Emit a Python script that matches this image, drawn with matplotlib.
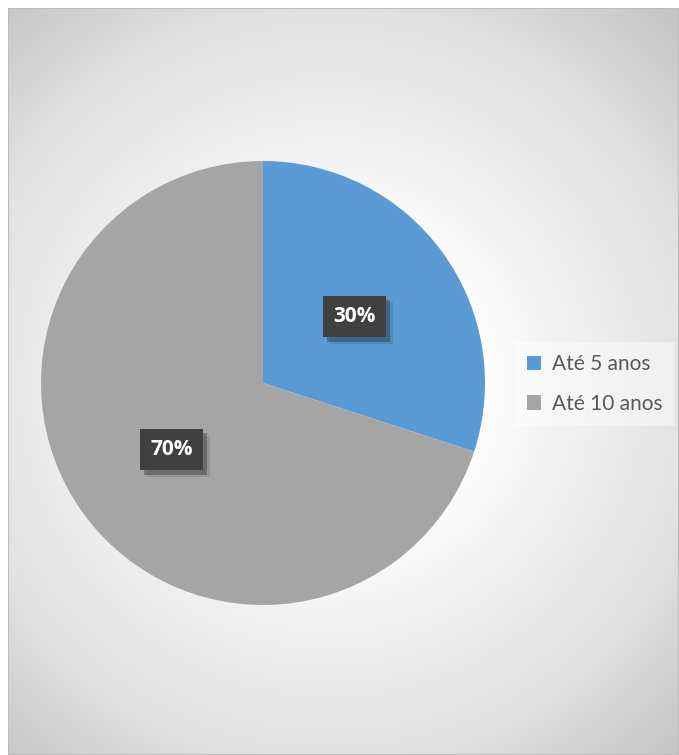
import numpy as np
import matplotlib.pyplot as plt
from matplotlib.patches import Rectangle
import matplotlib.patheffects as pe

labels = ["Até 5 anos", "Até 10 anos"]
values = [30, 70]
colors = ["#5B9BD5", "#A5A5A5"]

W, H = 679, 755
fig = plt.figure(figsize=(W / 100, H / 100), dpi=100)
fig.patch.set_facecolor("white")

# chart area background: radial gradient, white around the pie, grey towards the corners
bg = fig.add_axes([8 / W, 0, 1 - 8 / W, 1 - 8 / H])
bg.set_axis_off()
yy, xx = np.mgrid[8:H, 8:W]
d = np.hypot(xx - 330, yy - 385)
g = np.interp(d, [0, 150, 230, 370, 510, 700], [255, 255, 242, 226, 196, 180]) / 255.0
bg.imshow(np.dstack([g, g, g]), aspect="auto", extent=[0, 1, 0, 1], interpolation="bilinear")
bg.add_patch(Rectangle((0, 0), 1, 1, transform=bg.transAxes, fill=False,
                       edgecolor="#BDBDBD", linewidth=1.5))
bg.set_xlim(0, 1)
bg.set_ylim(0, 1)

# pie
cx, cy, r = 263, 383, 222
ax = fig.add_axes([(cx - r) / W, (H - cy - r) / H, 2 * r / W, 2 * r / H])
ax.set_axis_off()
wedges, texts, autotexts = ax.pie(values, colors=colors, startangle=90, counterclock=False,
                                  autopct="%d%%", pctdistance=0.51, radius=1,
                                  wedgeprops=dict(linewidth=0))
ax.set_xlim(-1, 1)
ax.set_ylim(-1, 1)
for t in autotexts:
    t.set_color("white")
    t.set_fontsize(15)
    t.set_fontweight("bold")
    t.set_fontfamily("Open Sans")
    t.set_bbox(dict(boxstyle="square,pad=0.5", facecolor="#404040", edgecolor="none",
                    path_effects=[pe.SimplePatchShadow(offset=(5, -5), alpha=0.12),
                                  pe.SimplePatchShadow(offset=(3, -3), alpha=0.3),
                                  pe.Normal()]))

# legend
leg = fig.legend(wedges, labels, loc="center left", bbox_to_anchor=(514 / W, (H - 384) / H),
                 frameon=True, prop=dict(family="Lato", size=15), handlelength=0.7,
                 handleheight=0.7, handletextpad=0.5, labelspacing=0.95, borderpad=0.6,
                 borderaxespad=0, fancybox=False)
leg.get_frame().set_facecolor("white")
leg.get_frame().set_alpha(0.45)
leg.get_frame().set_edgecolor("none")
for t in leg.get_texts():
    t.set_color("#595959")

fig.savefig("out.png", dpi=100)
